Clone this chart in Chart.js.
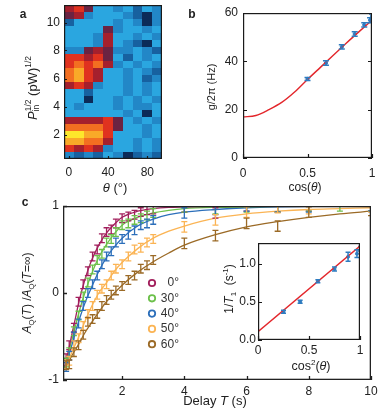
<!DOCTYPE html>
<html><head><meta charset="utf-8">
<script src="https://cdn.jsdelivr.net/npm/chart.js@4.4.1/dist/chart.umd.min.js"></script>
<style>
html,body{margin:0;padding:0;background:#fff;}
#wrap{position:relative;width:379px;height:411px;overflow:hidden;background:#fff;}
canvas{position:absolute;left:0;top:0;}
</style></head><body>
<div id="wrap">
<canvas id="cc" width="379" height="411"></canvas>
<canvas id="cd" width="379" height="411"></canvas>
<canvas id="ca" width="379" height="411"></canvas>
<canvas id="cb" width="379" height="411"></canvas>
</div>
<script>
// ---------------- DATA ----------------
// panel a : heat map (levels 0..10 on the colour scale)
const thetaCols = [0, 10, 20, 30, 40, 50, 60, 70, 80, 90];
const powerRows = [11, 10.5, 10, 9.5, 9, 8.5, 8, 7.5, 7, 6.5, 6, 5.5, 5, 4.5, 4, 3.5, 3, 2.5, 2, 1.5, 1, 0.5];
const heatLevels = [
  [6,7,5,3,3,2,3,1,3,2],
  [5,6,2,3,3,3,2,1,0,2],
  [1,3,3,3,3,2,3,2,0,2],
  [3,3,3,3,5,2,3,3,2,3],
  [3,3,3,2,6,3,3,2,3,2],
  [3,3,3,2,6,3,2,1,0,3],
  [2,2,5,6,5,2,2,3,2,1],
  [7,7,6,7,5,3,1,3,2,3],
  [7,8,7,8,6,2,3,2,3,2],
  [8,9,7,6,3,3,2,3,2,1],
  [8,9,7,6,3,3,2,3,1,2],
  [6,7,6,2,3,3,2,3,2,3],
  [3,3,1,3,3,3,2,3,2,3],
  [3,3,0,3,3,2,3,2,3,2],
  [3,2,3,3,3,2,3,2,2,3],
  [3,3,3,3,3,3,2,3,0,3],
  [6,6,6,6,7,5,3,2,3,2],
  [8,8,8,8,7,5,3,3,2,3],
  [10,10,9,9,7,3,3,3,2,3],
  [9,9,8,8,6,3,3,2,3,2],
  [7,6,7,6,2,3,3,2,3,2],
  [2,1,2,1,3,2,0,1,2,1]
];
const heatTicksX = [0, 40, 80];
const heatTicksY = [2, 4, 6, 8, 10];

// panel b
const cosTheta   = [0.5, 0.643, 0.766, 0.866, 0.940, 0.985, 1.0];
const couplingHz = [32.7, 39.3, 46.0, 51.3, 55.1, 57.0, 58.6];
const couplingErr= [0.6, 0.9, 0.9, 0.9, 0.9, 1.0, 1.0];
const couplingFitX = [0, 0.1, 0.2, 0.3, 0.4, 0.5, 0.6, 0.7, 0.8, 0.9, 1.0];
const couplingFitY = [17, 17.6, 20, 23, 27.3, 32.5, 37.5, 42.5, 47.5, 52.3, 57];
const bTicksX = [0, 0.5, 1];
const bTicksY = [0, 20, 40, 60];

// panel c
const angleLabels = ['0°', '30°', '40°', '50°', '60°'];
const delayDense  = [0.2, 0.3, 0.45, 0.6, 0.75, 0.9, 1.05, 1.2, 1.35, 1.5, 1.65, 1.8, 2.0, 2.2, 2.4, 2.6, 2.8, 3.0];
const delaySparse = [4, 5, 6, 7, 8, 9, 10];
const amp0Dense  = [-0.75,-0.60,-0.40,-0.10,0.10,0.25,0.42,0.50,0.63,0.70,0.73,0.80,0.86,0.88,0.90,0.93,0.95,0.96];
const amp0Sparse = [0.99,0.92,1.00,0.99,1.00,null,1.00];
const amp30Dense = [-0.80,-0.68,-0.44,-0.26,-0.04,0.12,0.27,0.38,0.45,0.58,0.62,0.70,0.78,0.80,0.84,0.86,0.89,0.92];
const amp30Sparse= [0.99,0.97,0.99,0.99,1.00,1.00,1.00];
const amp40Dense = [-0.85,-0.72,-0.50,-0.35,-0.15,0.00,0.10,0.20,0.33,0.42,0.48,0.58,0.62,0.67,0.72,0.78,0.80,0.84];
const amp40Sparse= [0.92,0.96,1.00,0.99,0.99,null,1.00];
const amp50Dense = [-0.82,-0.78,-0.60,-0.52,-0.38,-0.24,-0.15,-0.02,0.05,0.10,0.20,0.28,0.33,0.42,0.50,0.52,0.58,0.62];
const amp50Sparse= [0.76,0.84,0.93,0.98,0.97,null,0.99];
const amp60Dense = [-0.83,-0.82,-0.68,-0.60,-0.48,-0.33,-0.30,-0.24,-0.15,-0.08,-0.02,0.03,0.08,0.15,0.20,0.28,0.32,0.38];
const amp60Sparse= [0.57,0.66,0.80,0.77,0.93,null,0.95];
const errDense = 0.05, errSparse = 0.06;
const fitT  = [0.15,0.2,0.3,0.4,0.5,0.6,0.8,1.0,1.25,1.5,1.75,2.0,2.5,3.0,3.5,4,5,6,7,8,9,10];
const fit0  = [-0.85,-0.78,-0.62,-0.45,-0.29,-0.12,0.15,0.36,0.55,0.69,0.79,0.87,0.94,0.97,0.985,0.99,1.0,1.0,1.0,1.0,1.0,1.0];
const fit30 = [-0.86,-0.80,-0.66,-0.52,-0.38,-0.24,0.0,0.2,0.41,0.56,0.68,0.78,0.87,0.92,0.95,0.97,0.985,0.99,0.995,1.0,1.0,1.0];
const fit40 = [-0.87,-0.82,-0.70,-0.58,-0.45,-0.33,-0.12,0.05,0.25,0.41,0.53,0.63,0.77,0.85,0.90,0.93,0.96,0.98,0.99,0.995,1.0,1.0];
const fit50 = [-0.87,-0.83,-0.75,-0.67,-0.59,-0.51,-0.33,-0.17,0.0,0.12,0.25,0.35,0.51,0.63,0.71,0.77,0.86,0.91,0.94,0.96,0.97,0.98];
const fit60 = [-0.88,-0.85,-0.78,-0.71,-0.65,-0.59,-0.46,-0.35,-0.22,-0.10,0.0,0.09,0.24,0.36,0.46,0.55,0.67,0.76,0.82,0.87,0.91,0.94];
const cTicksX = [2, 4, 6, 8, 10];
const cTicksY = [-1, 0, 1];

// inset
const cos2Theta = [0.25, 0.413, 0.587, 0.75, 0.883, 0.97, 1.0];
const rateInv   = [0.37, 0.50, 0.77, 0.93, 1.09, 1.13, 1.22];
const rateErr   = [0.02, 0.02, 0.02, 0.025, 0.06, 0.05, 0.055];
const rateFitX  = [0, 1];
const rateFitY  = [0.11, 1.23];
const dTicksX = [0, 0.5, 1];
const dTicksY = [0, 0.5, 1.0];

// ---------------- STYLE ----------------
const FONT = "'Liberation Sans', Arial, Helvetica, sans-serif";
const heatPalette = ['#0c2b58','#1761a0','#2287c7','#2aa6e0','#3ab8ec','#6b2342','#a5202d','#e0321f','#f36f21','#f9a928','#fde72b'];
const seriesColors = ['#a21f5c', '#6cc04a', '#2c6fba', '#fbb454', '#9b6a26'];
const blue = '#2f7cc0', red = '#e3262b';

Chart.defaults.font.family = FONT;
Chart.defaults.font.size = 12;
Chart.defaults.color = '#222';
Chart.defaults.animation = false;
Chart.defaults.responsive = false;
Chart.defaults.plugins.legend.display = false;
Chart.defaults.plugins.tooltip.enabled = false;

function linAxis(min, max, ticks, fmt, size, horiz, pad) {
  return {
    type: 'linear', min: min, max: max,
    afterBuildTicks: s => { s.ticks = ticks.map(v => ({value: v})); },
    afterFit: s => {
      if (horiz) s.height = size; else s.width = size;
      s.paddingTop = s.paddingBottom = s.paddingLeft = s.paddingRight = 0;
    },
    grid: {display: false, drawTicks: false},
    border: {display: false},
    ticks: {padding: pad, font: {size: 12}, color: '#222', callback: v => fmt(v)}
  };
}

// ---------------- PLUGINS ----------------
const heatPlugin = {
  id: 'heat',
  beforeDatasetsDraw(chart, args, o) {
    if (!o || !o.palette) return;
    const {ctx, scales: {x, y}} = chart;
    ctx.save();
    chart.data.datasets.forEach(ds => {
      if (!ds.heat) return;
      ds.data.forEach(c => {
        const x0 = Math.round(x.getPixelForValue(c.x - o.halfW));
        const x1 = Math.round(x.getPixelForValue(c.x + o.halfW));
        const y0 = Math.round(y.getPixelForValue(c.y + o.halfH));
        const y1 = Math.round(y.getPixelForValue(c.y - o.halfH));
        ctx.fillStyle = o.palette[c.v];
        ctx.fillRect(x0, y0, x1 - x0, y1 - y0);
      });
    });
    ctx.restore();
  }
};

const errPlugin = {
  id: 'errbars',
  afterDatasetsDraw(chart) {
    const {ctx, chartArea: a} = chart;
    const ys = chart.scales.y;
    ctx.save();
    ctx.beginPath(); ctx.rect(a.left, a.top, a.right - a.left, a.bottom - a.top); ctx.clip();
    chart.data.datasets.forEach((ds, di) => {
      if (!ds.errBars) return;
      const meta = chart.getDatasetMeta(di);
      ctx.strokeStyle = ds.borderColor;
      ctx.lineWidth = ds.errWidth || 1.2;
      const cap = (ds.capWidth || 6) / 2;
      ds.data.forEach((pt, i) => {
        const el = meta.data[i]; if (!el) return;
        const x = el.x;
        const yt = ys.getPixelForValue(pt.y + pt.e), yb = ys.getPixelForValue(pt.y - pt.e);
        ctx.beginPath();
        ctx.moveTo(x, yt); ctx.lineTo(x, yb);
        ctx.moveTo(x - cap, yt); ctx.lineTo(x + cap, yt);
        ctx.moveTo(x - cap, yb); ctx.lineTo(x + cap, yb);
        ctx.stroke();
      });
    });
    ctx.restore();
  }
};

const framePlugin = {
  id: 'frame',
  beforeDatasetsDraw(chart, args, o) {
    if (!o || !o.fill) return;
    const {ctx, chartArea: a} = chart;
    ctx.save(); ctx.fillStyle = o.fill; ctx.fillRect(a.left, a.top, a.right - a.left, a.bottom - a.top); ctx.restore();
  },
  afterDatasetsDraw(chart, args, o) {
    if (!o) return;
    const {ctx, chartArea: a, scales} = chart;
    ctx.save();
    ctx.strokeStyle = o.color || '#222';
    ctx.lineWidth = o.width || 1;
    const L = o.tickLen || 4;
    ctx.beginPath();
    (o.sides || []).forEach(side => {
      const sc = (side === 'bottom' || side === 'top') ? scales.x : scales.y;
      sc.ticks.forEach(t => {
        const p = Math.round(sc.getPixelForValue(t.value)) + 0.5;
        if (side === 'bottom') { ctx.moveTo(p, a.bottom); ctx.lineTo(p, a.bottom - L); }
        if (side === 'top') { ctx.moveTo(p, a.top); ctx.lineTo(p, a.top + L); }
        if (side === 'left') { ctx.moveTo(a.left, p); ctx.lineTo(a.left + L, p); }
        if (side === 'right') { ctx.moveTo(a.right, p); ctx.lineTo(a.right - L, p); }
      });
    });
    ctx.stroke();
    const h = (o.width || 1) / 2;
    ctx.strokeRect(a.left + h, a.top + h, a.right - a.left - 2 * h, a.bottom - a.top - 2 * h);
    ctx.restore();
  }
};

function drawRich(ctx, item) {
  const size = item.size || 12;
  let cursor = 0, lastStart = 0;
  const parts = item.segs.map(s => {
    const small = s.sub || s.sup;
    const fs = small ? size * 0.65 : size;
    const font = (s.i ? 'italic ' : '') + (s.b ? 'bold ' : '') + fs + 'px ' + FONT;
    ctx.font = font;
    const w = ctx.measureText(s.t).width;
    let x;
    if (s.stack) { x = lastStart; cursor = Math.max(cursor, lastStart + w); }
    else { x = cursor; lastStart = cursor; cursor += w; }
    const dy = s.sub ? size * 0.3 : (s.sup ? -size * 0.36 : 0);
    return {t: s.t, font: font, x: x, dy: dy};
  });
  const total = cursor;
  ctx.save();
  ctx.translate(item.x, item.y);
  if (item.rot) ctx.rotate(item.rot);
  ctx.fillStyle = item.color || '#222';
  ctx.textBaseline = 'middle';
  ctx.textAlign = 'left';
  parts.forEach(p => { ctx.font = p.font; ctx.fillText(p.t, p.x - total / 2, p.dy); });
  ctx.restore();
}

const richPlugin = {
  id: 'rich',
  afterDraw(chart, args, o) {
    if (!o || !o.items) return;
    o.items.forEach(it => drawRich(chart.ctx, it));
  }
};

const legendPlugin = {
  id: 'circleLegend',
  afterDraw(chart, args, o) {
    if (!o || !o.labels) return;
    const ctx = chart.ctx;
    ctx.save();
    o.labels.forEach((lab, i) => {
      const y = o.top + i * o.step;
      ctx.beginPath();
      ctx.strokeStyle = o.colors[i]; ctx.lineWidth = 1.8;
      ctx.arc(o.markX, y, 3.2, 0, Math.PI * 2); ctx.stroke();
      ctx.fillStyle = '#333'; ctx.font = '12px ' + FONT;
      ctx.textAlign = 'right'; ctx.textBaseline = 'middle';
      ctx.fillText(lab, o.textRight, y);
    });
    ctx.restore();
  }
};

// ---------------- PANEL A ----------------
const heatCells = [];
powerRows.forEach((p, r) => thetaCols.forEach((t, c) => heatCells.push({x: t, y: p, v: heatLevels[r][c]})));

new Chart(document.getElementById('ca'), {
  type: 'scatter',
  data: {datasets: [{heat: true, data: heatCells, pointRadius: 0}]},
  options: {
    layout: {padding: {left: 44, top: 5, right: 217, bottom: 232}},
    scales: {
      x: linAxis(-5, 95, heatTicksX, v => String(v), 20, true, 6),
      y: linAxis(0.25, 11.25, heatTicksY, v => String(v), 20, false, 4)
    },
    plugins: {
      heat: {palette: heatPalette, halfW: 5, halfH: 0.25},
      frame: {sides: ['bottom', 'left'], color: '#1a1a1a', width: 1.2, tickLen: 3},
      rich: {items: [
        {x: 23, y: 15, size: 12, segs: [{t: 'a', b: true}]},
        {x: 33, y: 88, size: 13, rot: -Math.PI / 2, segs: [{t: 'P', i: true}, {t: 'in', sub: true}, {t: '1/2', sup: true, stack: true}, {t: ' (pW)'}, {t: '1/2', sup: true}]},
        {x: 115, y: 188, size: 13, segs: [{t: 'θ', i: true}, {t: ' (°)'}]}
      ]}
    }
  },
  plugins: [heatPlugin, framePlugin, richPlugin]
});

// ---------------- PANEL B ----------------
new Chart(document.getElementById('cb'), {
  type: 'scatter',
  data: {datasets: [
    {data: couplingFitX.map((x, i) => ({x: x, y: couplingFitY[i]})), showLine: true, borderColor: red, borderWidth: 1.4, pointRadius: 0, cubicInterpolationMode: 'monotone'},
    {data: cosTheta.map((x, i) => ({x: x, y: couplingHz[i], e: couplingErr[i]})), errBars: true, borderColor: blue, backgroundColor: blue, pointRadius: 1.6, errWidth: 1.5, capWidth: 6}
  ]},
  options: {
    layout: {padding: {left: 223, top: 13, right: 7, bottom: 233}},
    scales: {
      x: linAxis(0, 1, bTicksX, v => String(v), 20, true, 8),
      y: linAxis(0, 60, bTicksY, v => String(v), 20, false, 5)
    },
    plugins: {
      frame: {sides: ['bottom', 'left', 'right'], color: '#1a1a1a', width: 1.2, tickLen: 4},
      rich: {items: [
        {x: 192, y: 15, size: 12, segs: [{t: 'b', b: true}]},
        {x: 212, y: 87, size: 11, rot: -Math.PI / 2, segs: [{t: 'g/2π (Hz)'}]},
        {x: 305, y: 188, size: 12, segs: [{t: 'cos('}, {t: 'θ', i: true}, {t: ')'}]}
      ]}
    }
  },
  plugins: [errPlugin, framePlugin, richPlugin]
});

// ---------------- PANEL C ----------------
function pts(ts, vals, err) {
  const out = [];
  ts.forEach((t, i) => { if (vals[i] !== null) out.push({x: t, y: vals[i], e: err}); });
  return out;
}
const denseSets = [amp0Dense, amp30Dense, amp40Dense, amp50Dense, amp60Dense];
const sparseSets = [amp0Sparse, amp30Sparse, amp40Sparse, amp50Sparse, amp60Sparse];
const fitSets = [fit0, fit30, fit40, fit50, fit60];
const cDatasets = [];
fitSets.forEach((f, k) => cDatasets.push({
  label: angleLabels[k], data: fitT.map((t, i) => ({x: t, y: f[i]})), showLine: true,
  borderColor: seriesColors[k], borderWidth: 1.3, pointRadius: 0, cubicInterpolationMode: 'monotone'
}));
denseSets.forEach((d, k) => cDatasets.push({
  label: angleLabels[k], data: pts(delayDense, d, errDense).concat(pts(delaySparse, sparseSets[k], errSparse)),
  errBars: true, borderColor: seriesColors[k], pointRadius: 0, errWidth: 1.3, capWidth: 6
}));

new Chart(document.getElementById('cc'), {
  type: 'scatter',
  data: {datasets: cDatasets},
  options: {
    layout: {padding: {left: 43, top: 206, right: 8, bottom: 6}},
    scales: {
      x: linAxis(0.1, 10, cTicksX, v => String(v), 25, true, 4.5),
      y: linAxis(-1, 1, cTicksY, v => String(v), 20, false, 4)
    },
    plugins: {
      frame: {sides: ['bottom', 'left'], color: '#222', width: 1.3, tickLen: 4},
      circleLegend: {labels: angleLabels, colors: seriesColors, top: 283, step: 15.3, markX: 152, textRight: 179},
      rich: {items: [
        {x: 25, y: 203, size: 12, segs: [{t: 'c', b: true}]},
        {x: 28, y: 293, size: 12, rot: -Math.PI / 2, segs: [{t: 'A', i: true}, {t: 'Q', sub: true}, {t: '('}, {t: 'T', i: true}, {t: ') /'}, {t: 'A', i: true}, {t: 'Q', sub: true}, {t: '('}, {t: 'T', i: true}, {t: '=∞)'}]},
        {x: 215, y: 401, size: 13, segs: [{t: 'Delay '}, {t: 'T', i: true}, {t: ' (s)'}]}
      ]}
    }
  },
  plugins: [errPlugin, framePlugin, legendPlugin, richPlugin]
});

// ---------------- INSET ----------------
new Chart(document.getElementById('cd'), {
  type: 'scatter',
  data: {datasets: [
    {data: rateFitX.map((x, i) => ({x: x, y: rateFitY[i]})), showLine: true, borderColor: red, borderWidth: 1.4, pointRadius: 0},
    {data: cos2Theta.map((x, i) => ({x: x, y: rateInv[i], e: rateErr[i]})), errBars: true, borderColor: blue, backgroundColor: blue, pointRadius: 1.5, errWidth: 1.5, capWidth: 5}
  ]},
  options: {
    layout: {padding: {left: 233, top: 243, right: 19, bottom: 51}},
    scales: {
      x: linAxis(0, 1, dTicksX, v => String(v), 20, true, 3),
      y: linAxis(0, 1.27, dTicksY, v => v.toFixed(1), 25, false, 2)
    },
    plugins: {
      frame: {fill: '#fff', sides: ['bottom', 'left'], color: '#1a1a1a', width: 1.2, tickLen: 4},
      rich: {items: [
        {x: 230, y: 289, size: 12, rot: -Math.PI / 2, segs: [{t: '1/'}, {t: 'T', i: true}, {t: '1', sub: true}, {t: '  (s'}, {t: '-1', sup: true}, {t: ')'}]},
        {x: 311, y: 367, size: 12.5, segs: [{t: 'cos'}, {t: '2', sup: true}, {t: '('}, {t: 'θ', i: true}, {t: ')'}]}
      ]}
    }
  },
  plugins: [errPlugin, framePlugin, richPlugin]
});
</script>
</body></html>
